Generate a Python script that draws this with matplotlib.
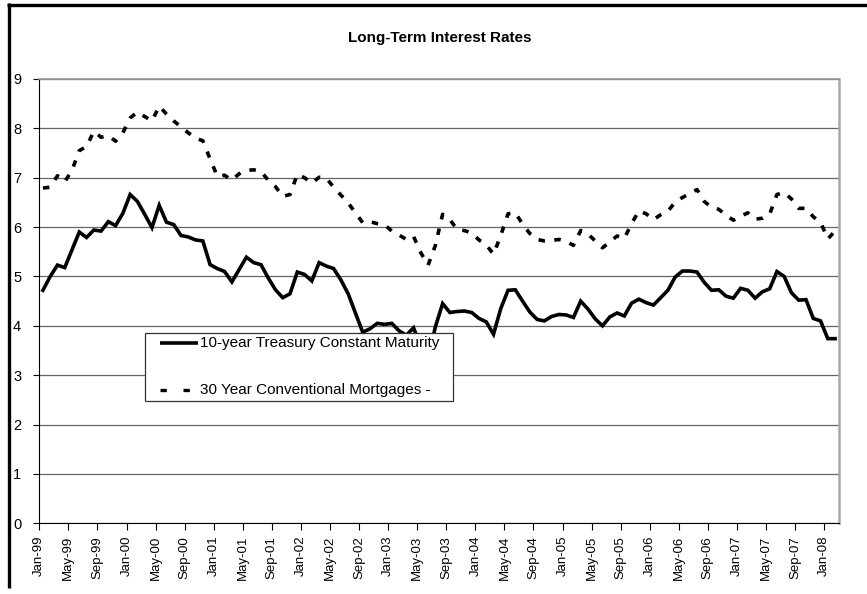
import matplotlib
matplotlib.use("Agg")
import matplotlib.pyplot as plt
import pandas as pd
from matplotlib.lines import Line2D
from matplotlib.patches import Rectangle

plt.rcParams['font.family'] = ['Liberation Sans', 'DejaVu Sans']

# monthly categories Jan-99 .. Feb-08
months = pd.date_range('1999-01-01', '2008-02-01', freq='MS')
month_labels = [m.strftime('%b-%y') for m in months]

treasury_10y = [
    4.72, 5.00, 5.23, 5.18, 5.54, 5.90, 5.79, 5.94, 5.92, 6.11, 6.03, 6.28,
    6.66, 6.52, 6.26, 5.99, 6.44, 6.10, 6.05, 5.83, 5.80, 5.74, 5.72, 5.24,
    5.16, 5.10, 4.89, 5.14, 5.39, 5.28, 5.24, 4.97, 4.73, 4.57, 4.65, 5.09,
    5.04, 4.91, 5.28, 5.21, 5.16, 4.93, 4.65, 4.26, 3.87, 3.94, 4.05, 4.03,
    4.05, 3.90, 3.81, 3.96, 3.57, 3.33, 3.98, 4.45, 4.27, 4.29, 4.30, 4.27,
    4.15, 4.08, 3.83, 4.35, 4.72, 4.73, 4.50, 4.28, 4.13, 4.10, 4.19, 4.23,
    4.22, 4.17, 4.50, 4.34, 4.14, 4.00, 4.18, 4.26, 4.20, 4.46, 4.54, 4.47,
    4.42, 4.57, 4.72, 4.99, 5.11, 5.11, 5.09, 4.88, 4.72, 4.73, 4.60, 4.56,
    4.76, 4.72, 4.56, 4.69, 4.75, 5.10, 5.00, 4.67, 4.52, 4.53, 4.15, 4.10,
    3.74, 3.74,
]

mortgage_30y = [
    6.79, 6.81, 7.04, 6.92, 7.15, 7.55, 7.63, 7.94, 7.82, 7.85, 7.74, 7.91,
    8.21, 8.33, 8.24, 8.15, 8.45, 8.29, 8.15, 8.03, 7.91, 7.80, 7.75, 7.38,
    7.03, 7.05, 6.95, 7.08, 7.15, 7.16, 7.13, 6.95, 6.82, 6.62, 6.66, 7.07,
    7.00, 6.89, 7.01, 6.99, 6.81, 6.65, 6.49, 6.29, 6.09, 6.11, 6.07, 6.05,
    5.92, 5.84, 5.75, 5.81, 5.48, 5.23, 5.63, 6.26, 6.15, 5.95, 5.93, 5.88,
    5.74, 5.64, 5.45, 5.83, 6.27, 6.29, 6.06, 5.87, 5.75, 5.72, 5.73, 5.75,
    5.71, 5.63, 5.93, 5.86, 5.72, 5.58, 5.70, 5.82, 5.77, 6.07, 6.33, 6.27,
    6.15, 6.25, 6.32, 6.51, 6.60, 6.68, 6.76, 6.52, 6.40, 6.36, 6.24, 6.14,
    6.22, 6.29, 6.16, 6.18, 6.26, 6.66, 6.70, 6.57, 6.38, 6.38, 6.21, 6.10,
    5.76, 5.92,
]

series_names = ['10-year Treasury Constant Maturity', '30 Year Conventional Mortgages -']

W, H = 867, 594
fig = plt.figure(figsize=(W / 100, H / 100), dpi=100)
fig.patch.set_facecolor('white')

# plot area in pixels: left 39.3, right 838.7, top 79, bottom 523.3
ax = fig.add_axes([39.3 / W, (H - 523.3) / H, 799.4 / W, 444.3 / H])

x = list(range(len(months)))
ax.plot(x, treasury_10y, color='black', lw=2.6, solid_joinstyle='miter',
        solid_capstyle='projecting', zorder=3)
ax.plot(x, mortgage_30y, color='black', lw=2.6, dashes=(1.8, 2.6),
        dash_capstyle='butt', zorder=3)

ax.set_xlim(-0.5, len(months) - 0.5)
ax.set_ylim(0, 9)
ax.set_yticks(range(10))
ax.yaxis.grid(True, color='#666666', lw=0.9, zorder=0)
ax.set_axisbelow(True)

tick_idx = list(range(0, len(months), 4))
ax.set_xticks([i - 0.5 for i in tick_idx])
ax.set_xticklabels([month_labels[i] for i in tick_idx], rotation=90)
ax.tick_params(axis='y', direction='out', length=4, width=0.8, pad=9, labelsize=10.5)
ax.tick_params(axis='x', direction='out', length=5, width=0.8, pad=4, labelsize=9.5)

ax.spines['left'].set_color('black')
ax.spines['left'].set_linewidth(0.8)
ax.spines['bottom'].set_color('black')
ax.spines['bottom'].set_linewidth(0.8)
ax.spines['top'].set_color('#9a9a9a')
ax.spines['top'].set_linewidth(1.2)
ax.spines['right'].set_color('#a8a8a8')
ax.spines['right'].set_linewidth(1.8)

# legend box drawn by hand, placed over the lines
ax.add_patch(Rectangle((0.1322, 0.2753), 0.3853, 0.153, transform=ax.transAxes,
                       facecolor='white', edgecolor='#333333', lw=0.9, zorder=5))
ax.add_line(Line2D([0.1510, 0.1983], [0.4065, 0.4065], transform=ax.transAxes,
                   color='black', lw=2.6, solid_capstyle='butt', zorder=6))
ax.add_line(Line2D([0.1510, 0.1983], [0.300, 0.300], transform=ax.transAxes,
                   color='black', lw=2.4, dashes=(1.9, 5.0), dash_capstyle='butt', zorder=6))
ax.text(0.2005, 0.4065, series_names[0], transform=ax.transAxes, fontsize=11,
        va='center', ha='left', zorder=7)
ax.text(0.2005, 0.300, series_names[1], transform=ax.transAxes, fontsize=11,
        va='center', ha='left', zorder=7)

fig.text(440 / W, 1 - 38 / H, 'Long-Term Interest Rates', ha='center', va='center',
         fontsize=11, fontweight='bold')

# outer chart frame (left and top edges)
fig.add_artist(Line2D([8.5 / W, 8.5 / W], [1 - 3 / H, 1 - 588 / H], transform=fig.transFigure,
                      color='black', lw=2.4, solid_capstyle='butt'))
fig.add_artist(Line2D([7 / W, 1.0], [1 - 4.5 / H, 1 - 4.5 / H], transform=fig.transFigure,
                      color='black', lw=2.4, solid_capstyle='butt'))

fig.savefig('out.png', dpi=100)
